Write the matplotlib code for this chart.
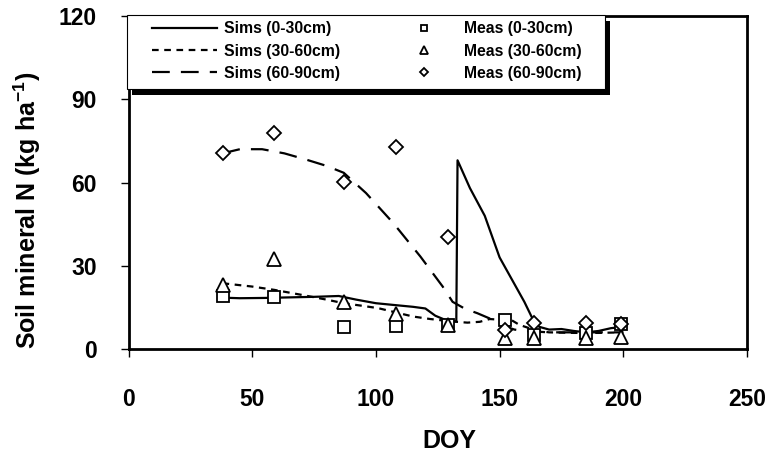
import matplotlib
matplotlib.use("Agg")
import matplotlib.pyplot as plt
from matplotlib.patches import Rectangle

plt.rcParams['font.family'] = ['Liberation Sans', 'DejaVu Sans']
plt.rcParams['font.weight'] = 'bold'
plt.rcParams['mathtext.fontset'] = 'custom'
plt.rcParams['mathtext.bf'] = 'Liberation Sans:bold'
plt.rcParams['mathtext.rm'] = 'Liberation Sans:bold'

# Simulated series
sim1_doy = [38, 45, 55, 65, 75, 85, 92, 100, 108, 115, 120, 124, 128, 131, 132.5,
            133, 138, 144, 150, 155, 160, 163, 166, 170, 175, 180, 185, 190, 195, 200]
sim1_val = [18.5, 18.3, 18.4, 18.6, 18.8, 19.1, 17.8, 16.5, 15.8, 15.2, 14.6, 12.0, 10.5, 9.9, 10.0,
            68.0, 58.0, 48.0, 33.0, 25.0, 17.0, 11.5, 8.0, 7.0, 7.2, 6.5, 6.0, 6.5, 7.5, 8.0]

sim2_doy = [38, 50, 59, 70, 80, 87, 95, 101, 108, 115, 122, 128, 131, 137, 142, 146,
            151, 155, 158, 162, 166, 170, 180, 190, 200]
sim2_val = [23.7, 22.5, 21.3, 19.5, 17.8, 16.5, 15.5, 14.7, 13.2, 11.7, 10.8, 10.2, 9.9, 9.5, 9.8, 10.8,
            10.5, 10.3, 8.7, 7.5, 6.5, 6.0, 5.8, 5.8, 6.0]

sim3_doy = [38, 45, 54, 63, 72, 80, 87, 96, 107, 118, 127, 131, 136, 141, 146, 151,
            156, 160, 170, 180, 190, 200]
sim3_val = [70.5, 72.0, 72.0, 70.5, 68.2, 66.0, 63.5, 56.2, 45.4, 33.3, 22.5, 17.0, 14.5, 12.9, 11.0, 8.5,
            7.0, 6.5, 6.0, 6.0, 6.0, 6.0]

# Measured series
meas_doy = [38, 59, 87, 108, 129, 152, 164, 185, 199]
meas1 = [19.0, 18.7, 8.0, 8.3, 8.6, 10.6, 5.0, 5.8, 9.1]
meas2 = [23.0, 32.6, 17.0, 12.5, 8.5, 4.0, 4.0, 4.0, 4.4]
meas3 = [70.6, 78.0, 60.2, 72.8, 40.3, 6.9, 9.4, 9.4, 9.1]

xticks = [0, 50, 100, 150, 200, 250]
yticks = [0, 30, 60, 90, 120]

W, H = 775, 463
fig = plt.figure(figsize=(W / 100, H / 100), dpi=100)
ax = fig.add_axes([128.5 / W, 1 - 349 / H, (747 - 128.5) / W, (349 - 16) / H])

l1, = ax.plot(sim1_doy, sim1_val, color='black', lw=1.6, label='Sims (0-30cm)', zorder=3)
l2, = ax.plot(sim2_doy, sim2_val, color='black', lw=1.6, linestyle=(0, (3, 2.5)),
              label='Sims (30-60cm)', zorder=3)
l3, = ax.plot(sim3_doy, sim3_val, color='black', lw=1.6, linestyle=(0, (8, 5)),
              label='Sims (60-90cm)', zorder=3)

m1, = ax.plot(meas_doy, meas1, linestyle='none', marker='s', markersize=9,
              markerfacecolor='white', markeredgecolor='black', markeredgewidth=1.3,
              label='Meas (0-30cm)', zorder=4)
m2, = ax.plot(meas_doy, meas2, linestyle='none', marker='^', markersize=10,
              markerfacecolor='white', markeredgecolor='black', markeredgewidth=1.3,
              label='Meas (30-60cm)', zorder=4)
m3, = ax.plot(meas_doy, meas3, linestyle='none', marker='D', markersize=7.5,
              markerfacecolor='white', markeredgecolor='black', markeredgewidth=1.3,
              label='Meas (60-90cm)', zorder=4)

ax.set_xlim(0, 250)
ax.set_ylim(0, 120)
ax.set_xticks(xticks)
ax.set_yticks(yticks)
ax.tick_params(axis='both', direction='out', length=6, width=1, labelsize=16.5)
ax.tick_params(axis='y', pad=17)
ax.tick_params(axis='x', pad=22)
for lab in ax.get_xticklabels() + ax.get_yticklabels():
    lab.set_fontweight('bold')
for s in ax.spines.values():
    s.set_linewidth(2)
    s.set_color('black')

fig.text(449 / W, 1 - 441 / H, 'DOY', fontsize=18, fontweight='bold', ha='center', va='center')
fig.text(27 / W, 1 - 210 / H, 'Soil mineral N (kg ha$^{\\mathbf{-1}}$)', fontsize=18,
         fontweight='bold', rotation=90, ha='center', va='center')

leg = fig.legend(handles=[l1, l2, l3, m1, m2, m3], ncol=2, loc='upper left',
                 bbox_to_anchor=(152 / W, 1 - 21.5 / H), frameon=False,
                 markerscale=0.55, handlelength=4.14, handletextpad=0.45,
                 columnspacing=3.3, labelspacing=0.45, borderpad=0, borderaxespad=0,
                 prop={'weight': 'bold', 'size': 11.3})
leg.set_zorder(11)

# legend frame with solid black drop shadow
fx0, fy0, fx1, fy1 = 127, 15, 605, 89
shadow = Rectangle(((fx0 + 5) / W, 1 - (fy1 + 6) / H), (fx1 - fx0) / W, (fy1 - fy0) / H,
                   transform=fig.transFigure, facecolor='black', edgecolor='none', zorder=9)
frame = Rectangle((fx0 / W, 1 - fy1 / H), (fx1 - fx0) / W, (fy1 - fy0) / H,
                  transform=fig.transFigure, facecolor='white', edgecolor='black',
                  linewidth=0.8, zorder=10)
fig.add_artist(shadow)
fig.add_artist(frame)

fig.savefig('out.png', dpi=100)
